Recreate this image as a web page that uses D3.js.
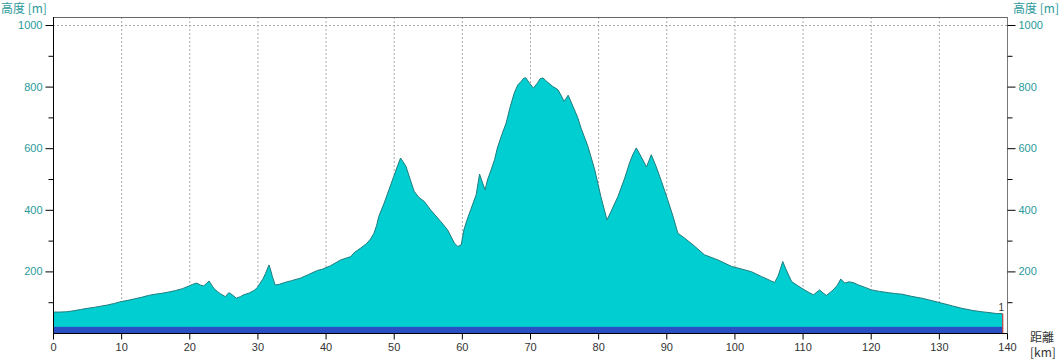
<!DOCTYPE html>
<html><head><meta charset="utf-8">
<script src="https://cdn.jsdelivr.net/npm/d3@7"></script>
<style>body{margin:0;background:#fff}svg{display:block}</style>
</head><body><svg id="c" width="1060" height="360"></svg>
<script>
const distanceKm = [0,1,2,3,4,5,6,7,8,9,10,11,12,13,14,15,16,17,18,19,20,20.5,21.1,21.6,22.1,22.5,22.9,23.3,23.6,24.1,24.6,25.3,25.8,26.3,26.9,27.5,28.0,28.8,29.5,30.0,30.4,30.8,31.2,31.7,32.0,32.2,32.6,33.2,34.0,35.0,36.3,37.5,38.8,39.5,40.7,42.2,43.7,44.2,45.1,46.0,46.6,47.1,47.5,47.8,48.6,49.3,50.0,50.6,51.0,51.4,51.8,52.4,53.0,53.7,54.5,55.4,56.2,56.9,57.9,58.9,59.4,59.9,60.3,60.8,61.3,62.1,62.6,63.0,63.4,63.8,64.3,64.8,65.2,65.8,66.5,67.1,67.7,68.2,68.7,69.1,69.4,69.9,70.5,71.1,71.5,71.9,72.3,72.6,73.3,74.1,74.6,75.0,75.6,76.3,77.0,77.5,78.5,79.5,80.4,81.3,81.9,82.9,83.9,84.6,85.1,85.6,86.3,87.1,87.8,88.5,89.3,90.2,91.0,91.7,92.7,94.2,95.6,97.6,99.6,101.0,102.5,104.0,105.3,105.9,106.4,106.7,107.1,107.6,108.4,109.2,109.9,110.8,111.6,112.5,113.0,113.5,114.5,115.1,115.6,116.2,116.8,117.4,118.2,119.2,120.1,121.3,122.6,123.6,124.6,126.0,127.5,129.0,130.4,132.0,133.4,135.0,136.3,137.5,138.5,139.3];
const elevationM = [68,68,69,72,76,80,83,87,91,96,102,106,111,116,122,126,129,133,138,144,153,158,162,156,153,160,169,155,145,135,127,118,131,124,113,118,124,130,138,148,162,175,194,221,200,183,156,158,164,170,178,190,203,207,218,237,248,261,275,290,305,324,350,378,422,465,508,545,568,555,541,500,460,440,427,400,380,362,335,292,281,286,335,370,400,449,516,490,465,500,530,563,600,640,682,735,780,805,817,828,828,812,795,812,826,828,820,814,801,790,770,752,772,736,700,665,606,530,443,367,395,443,503,552,580,601,573,539,579,541,492,433,378,324,308,281,254,237,216,208,199,183,170,164,185,205,232,205,167,155,145,133,124,140,130,122,140,155,175,162,166,164,156,148,140,135,131,128,126,119,113,105,97,88,80,73,69,66,63,63];
const xTicks = [0,10,20,30,40,50,60,70,80,90,100,110,120,130,140];
const yTicksMajor = [200,400,600,800,1000];
const yTicksMinor = [100,300,500,700,900];
const baseBand = 20;
const markerLabel = "1";

const svg = d3.select("#c");
const x = d3.scaleLinear().domain([0,140]).range([53,1007]);
const y = d3.scaleLinear().domain([0,1000]).range([333,25]);
const topY = 17;
const data = distanceKm.map((d,i)=>({d, e: elevationM[i]}));
const teal = "#2a9a9a";
const numFont = "'Liberation Sans', Arial, sans-serif";
const jpFont = "'Noto Sans CJK JP', sans-serif";

// vertical dashed gridlines
svg.append("g").selectAll("line").data(xTicks.slice(1,-1)).join("line")
  .attr("x1",d=>x(d)+0.5).attr("x2",d=>x(d)+0.5).attr("y1",topY).attr("y2",333)
  .attr("stroke","#aaa").attr("stroke-dasharray","2,2");
// horizontal 1000 gridline
svg.append("line").attr("x1",x(0)).attr("x2",x(140)).attr("y1",y(1000)+0.5).attr("y2",y(1000)+0.5)
  .attr("stroke","#aaa").attr("stroke-dasharray","2,2");

// area
const area = d3.area().x(d=>x(d.d)).y0(y(0)).y1(d=>y(d.e));
svg.append("path").datum(data).attr("d",area).attr("fill","#00ced1");
svg.append("path").datum(data).attr("d",d3.line().x(d=>x(d.d)).y(d=>y(d.e)))
  .attr("fill","none").attr("stroke","#1f7d7e").attr("stroke-width",1);

// base band
const last = data[data.length-1];
svg.append("rect").attr("x",x(0)).attr("y",y(baseBand)).attr("width",x(last.d)-x(0)).attr("height",y(0)-y(baseBand))
  .attr("fill","#2a4fc2");
// end marker
svg.append("line").attr("x1",x(last.d)+0.5).attr("x2",x(last.d)+0.5).attr("y1",y(last.e)).attr("y2",y(0))
  .attr("stroke","#b03a3a").attr("stroke-width",1.2);
svg.append("text").attr("x",x(last.d)-1).attr("y",y(last.e)-3).attr("text-anchor","middle")
  .attr("font-family",numFont).attr("font-size",10).attr("fill","#333").text(markerLabel);

// frame
svg.append("rect").attr("x",x(0)+0.5).attr("y",topY+0.5).attr("width",x(140)-x(0)).attr("height",333-topY)
  .attr("fill","none").attr("stroke","#666");

// left axis
const gl = svg.append("g").attr("transform",`translate(${x(0)+0.5},0)`);
gl.append("line").attr("y1",topY).attr("y2",333).attr("stroke","#000");
gl.selectAll("line.maj").data(yTicksMajor).join("line").attr("class","maj")
  .attr("x1",-8).attr("x2",0).attr("y1",d=>y(d)+0.5).attr("y2",d=>y(d)+0.5).attr("stroke","#000");
gl.selectAll("line.min").data(yTicksMinor).join("line").attr("class","min")
  .attr("x1",-5).attr("x2",0).attr("y1",d=>y(d)+0.5).attr("y2",d=>y(d)+0.5).attr("stroke","#000");
gl.selectAll("text").data(yTicksMajor).join("text")
  .attr("x",-11).attr("y",d=>y(d)+4).attr("text-anchor","end")
  .attr("font-family",numFont).attr("font-size",11).attr("fill",teal).text(d=>d);

// right axis
const gr = svg.append("g").attr("transform",`translate(${x(140)+0.5},0)`);
gr.append("line").attr("y1",topY).attr("y2",333).attr("stroke","#777");
gr.selectAll("line.maj").data(yTicksMajor).join("line").attr("class","maj")
  .attr("x1",0).attr("x2",8).attr("y1",d=>y(d)+0.5).attr("y2",d=>y(d)+0.5).attr("stroke","#000");
gr.selectAll("line.min").data(yTicksMinor).join("line").attr("class","min")
  .attr("x1",0).attr("x2",5).attr("y1",d=>y(d)+0.5).attr("y2",d=>y(d)+0.5).attr("stroke","#000");
gr.selectAll("text").data(yTicksMajor).join("text")
  .attr("x",11).attr("y",d=>y(d)+4).attr("text-anchor","start")
  .attr("font-family",numFont).attr("font-size",11).attr("fill",teal).text(d=>d);

// bottom axis
const gb = svg.append("g").attr("transform",`translate(0,${333.5})`);
gb.append("line").attr("x1",x(0)).attr("x2",x(140)).attr("stroke","#000");
gb.selectAll("line.t").data(xTicks).join("line").attr("class","t")
  .attr("x1",d=>x(d)+0.5).attr("x2",d=>x(d)+0.5).attr("y1",0).attr("y2",6).attr("stroke","#000");
gb.selectAll("text").data(xTicks).join("text")
  .attr("x",d=>x(d)+0.5).attr("y",17).attr("text-anchor","middle")
  .attr("font-family",numFont).attr("font-size",11).attr("fill","#333").text(d=>d);

// axis titles
svg.append("text").attr("x",1).attr("y",13).attr("font-family",jpFont).attr("font-size",12).attr("fill",teal).text("高度 [m]");
svg.append("text").attr("x",1059).attr("y",13).attr("text-anchor","end").attr("font-family",jpFont).attr("font-size",12).attr("fill",teal).text("高度 [m]");
svg.append("text").attr("x",1030).attr("y",342).attr("font-family",jpFont).attr("font-size",12).attr("fill","#333").text("距離");
svg.append("text").attr("x",1030).attr("y",357).attr("font-family",jpFont).attr("font-size",12).attr("fill","#333").text("[km]");
</script></body></html>
